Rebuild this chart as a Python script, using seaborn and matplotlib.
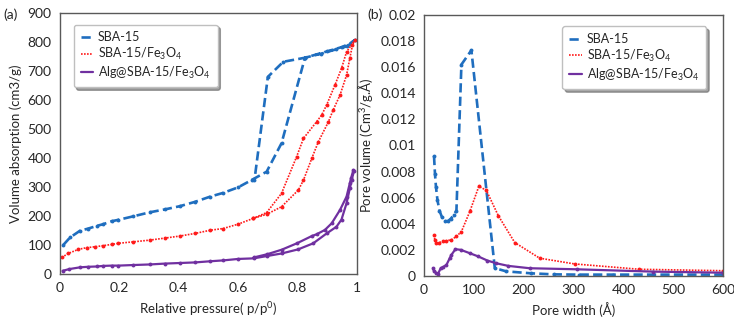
import numpy as np
import pandas as pd
import seaborn as sns
import matplotlib.pyplot as plt

# (a) isotherms: adsorption then desorption, in measurement order
sba_p = [0.011, 0.034, 0.067, 0.096, 0.124, 0.146, 0.174, 0.197, 0.247, 0.303, 0.354, 0.404,
         0.455, 0.506, 0.55, 0.6, 0.645, 0.696, 0.746, 0.825, 0.88, 0.93, 0.965, 0.993,
         0.976, 0.95, 0.9, 0.825, 0.752, 0.70, 0.655]
sba_v = [100, 126, 149, 157, 166, 172, 182, 187, 199, 213, 223, 234,
         249, 267, 280, 299, 324, 353, 451, 746, 760, 775, 785, 807,
         795, 783, 768, 746, 732, 680, 325]

fe_p = [0.006, 0.028, 0.062, 0.09, 0.118, 0.146, 0.174, 0.197, 0.247, 0.303, 0.354, 0.404,
        0.455, 0.506, 0.55, 0.6, 0.651, 0.696, 0.746, 0.803, 0.82, 0.848, 0.87, 0.904,
        0.92, 0.943, 0.965, 0.976, 0.985, 0.993,
        0.965, 0.948, 0.926, 0.898, 0.881, 0.864, 0.82, 0.797, 0.746, 0.696, 0.651]
fe_v = [57, 71, 85, 91, 94, 98, 102, 106, 111, 117, 124, 131,
        140, 151, 157, 172, 192, 206, 232, 290, 324, 399, 456, 525,
        566, 617, 686, 744, 790, 807,
        766, 709, 652, 583, 548, 525, 468, 405, 278, 212, 192]

alg_p = [0.009, 0.031, 0.067, 0.096, 0.124, 0.146, 0.174, 0.197, 0.247, 0.303, 0.354, 0.404,
         0.455, 0.506, 0.55, 0.6, 0.652, 0.697, 0.747, 0.802, 0.853, 0.898, 0.931, 0.948,
         0.965, 0.976, 0.982, 0.99,
         0.988, 0.98, 0.976, 0.965, 0.943, 0.915, 0.892, 0.864, 0.848, 0.798, 0.747, 0.697, 0.652]
alg_v = [11, 17, 23, 25, 26, 28, 29, 29, 31, 33, 36, 38,
         40, 44, 47, 52, 54, 62, 71, 85, 106, 140, 163, 188,
         244, 295, 324, 355,
         359, 330, 313, 267, 221, 175, 152, 137, 131, 106, 84, 68, 57]

# (b) pore size distributions
sba_w = [20, 22, 24, 27, 31, 36, 42, 48, 54, 60, 65, 75, 95, 142, 165, 215, 260, 310, 380, 460, 600]
sba_pv = [0.0092, 0.0078, 0.0068, 0.0058, 0.0050, 0.0045, 0.0042, 0.0042, 0.0044, 0.0047, 0.0050,
          0.0162, 0.0173, 0.0006, 0.00035, 0.0002, 0.00012, 0.0001, 0.0001, 0.0001, 0.0001]

fe_w = [20.7, 21.4, 24.7, 31, 38, 45, 55, 65, 75, 92, 110, 125, 149, 182, 232, 302, 432, 600]
fe_pv = [0.00315, 0.00277, 0.00251, 0.00256, 0.00264, 0.0027, 0.00277, 0.00303, 0.0034,
         0.00495, 0.00687, 0.00656, 0.00462, 0.00256, 0.00136, 0.00092, 0.00051, 0.0004]

alg_w = [18, 19.6, 24.7, 28, 33.5, 38, 45, 51.6, 55, 63, 73.7, 92, 109, 127, 145, 169, 212, 306, 460, 600]
alg_pv = [0.0006, 0.0004, 0.0002, 0.00015, 0.0006, 0.00067, 0.00085, 0.00136, 0.00162, 0.00205,
          0.002, 0.00174, 0.00149, 0.00118, 0.00097, 0.00077, 0.00059, 0.00051, 0.00033, 0.00025]

labels = ["SBA-15", "SBA-15/Fe$_3$O$_4$", "Alg@SBA-15/Fe$_3$O$_4$"]
colors = ["#1F6EBF", "#FF1A1A", "#7030A0"]
styles = [(0, (3.5, 1.6)), (0, (1, 0.8)), "-"]
widths = [1.9, 1.2, 1.6]

sns.set_style("white")
plt.rcParams["font.family"] = ["Lato", "DejaVu Sans"]
plt.rcParams["mathtext.fontset"] = "custom"
plt.rcParams["mathtext.rm"] = "Lato"

fig = plt.figure(figsize=(7.34, 3.19), dpi=100)
ax1 = fig.add_axes([0.0817, 0.141, 0.4046, 0.818])
ax2 = fig.add_axes([0.5777, 0.135, 0.4074, 0.818])

series_a = [(sba_p, sba_v), (fe_p, fe_v), (alg_p, alg_v)]
series_b = [(sba_w, sba_pv), (fe_w, fe_pv), (alg_w, alg_pv)]

for ax, series in [(ax1, series_a), (ax2, series_b)]:
    for (x, y), lab, c, ls, lw in zip(series, labels, colors, styles, widths):
        sns.lineplot(x=x, y=y, sort=False, estimator=None, errorbar=None, ax=ax,
                     color=c, linestyle=ls, linewidth=lw,
                     marker="o", markersize=2.8, markeredgewidth=0, label=lab)

ax1.set_xlim(0, 1)
ax1.set_ylim(0, 900)
ax1.set_xticks([0, 0.2, 0.4, 0.6, 0.8, 1])
ax1.set_xticklabels(["0", "0.2", "0.4", "0.6", "0.8", "1"])
ax1.set_yticks(range(0, 901, 100))
ax1.set_xlabel("Relative pressure( p/p$^0$)", fontsize=9.5)
ax1.set_ylabel("Volume absorption (cm3/g)", fontsize=9.5)

ax2.set_xlim(0, 600)
ax2.set_ylim(0, 0.02)
ax2.set_xticks(range(0, 601, 100))
ax2.set_yticks(np.arange(0, 0.0201, 0.002))
ax2.set_yticklabels(["0", "0.002", "0.004", "0.006", "0.008", "0.01", "0.012", "0.014",
                     "0.016", "0.018", "0.02"])
ax2.set_xlabel("Pore width (Å)", fontsize=9.5)
ax2.set_ylabel("Pore volume (Cm$^3$/g.Å)", fontsize=9.5)

for ax in (ax1, ax2):
    ax.tick_params(labelsize=10, length=0, pad=6)
    for s in ax.spines.values():
        s.set_color("#595959")
        s.set_linewidth(1.0)

leg_kw = dict(fontsize=9, fancybox=True, shadow=True, framealpha=1, edgecolor="#BFBFBF",
              handlelength=1.0, handletextpad=0.4, borderpad=0.55, labelspacing=0.2)
for ax, kw in [(ax1, dict(loc="upper left", bbox_to_anchor=(0.025, 0.98))),
               (ax2, dict(loc="upper right", bbox_to_anchor=(0.965, 0.98)))]:
    leg = ax.legend(**kw, **leg_kw)
    for h in leg.legend_handles:
        h.set_marker("")

fig.text(0.005, 0.975, "(a)", fontsize=10, va="top")
fig.text(0.500, 0.975, "(b)", fontsize=10, va="top")

fig.savefig("out.png", dpi=100)
